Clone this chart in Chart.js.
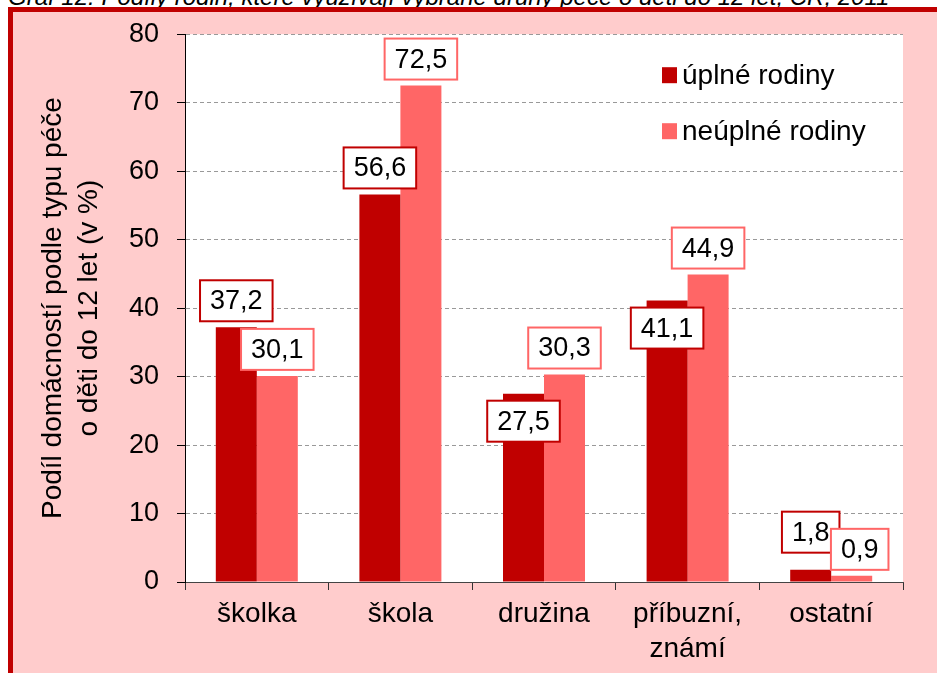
<!DOCTYPE html>
<html>
<head>
<meta charset="utf-8">
<script src="https://cdn.jsdelivr.net/npm/chart.js@4"></script>
<style>
  html, body { margin: 0; padding: 0; background: #fff; overflow: hidden; }
  #wrap { position: relative; width: 937px; height: 673px; overflow: hidden; }
  #ramec { position: absolute; left: 8px; top: 7px; right: 0; bottom: 0; background: #ffcccc;
           border-left: 5px solid #c00000; border-top: 5px solid #c00000; }
  #nadpis { position: absolute; left: 8px; top: -17px; font: italic 24px 'Liberation Sans', Arial, sans-serif;
            white-space: nowrap; color: #000; }
  #graf { position: absolute; left: 0; top: 0; }
</style>
</head>
<body>
<div id="wrap">
  <div id="nadpis">Graf 12: Podíly rodin, které využívají vybrané druhy péče o děti do 12 let, ČR, 2011</div>
  <div id="ramec"></div>
  <canvas id="graf" width="937" height="673"></canvas>
</div>
<script>
//druhy pece - osa x
var druhyPece = ['školka', 'škola', 'družina', ['příbuzní,', 'známí'], 'ostatní'];
//podily domacnosti v %
var uplneRodiny = [37.2, 56.6, 27.5, 41.1, 1.8];
var neuplneRodiny = [30.1, 72.5, 30.3, 44.9, 0.9];
//popisky osy y
var osaY = [0, 10, 20, 30, 40, 50, 60, 70, 80];

var pismo = "'Liberation Sans', Arial, sans-serif";
var tmava = '#c00000';
var svetla = '#ff6666';

//nektere popisky jsou v originale posunute rucne
var posunPopisku = {
  '0-2': { pod: true },
  '0-3': { pod: true },
  '0-4': { dy: -11 },
  '1-4': { dx: 8 }
};

Chart.defaults.font.family = pismo;
Chart.defaults.color = '#000';

//bile pozadi jen pod grafem
var bilePozadi = {
  id: 'bilePozadi',
  beforeDraw: function (chart) {
    var a = chart.chartArea;
    var ctx = chart.ctx;
    ctx.save();
    ctx.fillStyle = '#fff';
    ctx.fillRect(a.left, a.top, a.right - a.left, a.bottom - a.top);
    ctx.restore();
  }
};

//ramecky s hodnotami nad sloupci
var popisky = {
  id: 'popisky',
  afterDatasetsDraw: function (chart) {
    var ctx = chart.ctx;
    ctx.save();
    ctx.font = '27px ' + pismo;
    ctx.textAlign = 'center';
    ctx.textBaseline = 'middle';
    chart.data.datasets.forEach(function (ds, i) {
      var meta = chart.getDatasetMeta(i);
      meta.data.forEach(function (bar, j) {
        var text = ds.data[j].toFixed(1).replace('.', ',');
        var w = ctx.measureText(text).width + 20;
        var h = 41;
        var p = posunPopisku[i + '-' + j] || {};
        var x = bar.x + (p.dx || 0);
        var top = p.pod ? bar.y + 7 : bar.y - 6 - h + (p.dy || 0);
        ctx.fillStyle = '#fff';
        ctx.fillRect(x - w / 2, top, w, h);
        ctx.lineWidth = 2;
        ctx.strokeStyle = ds.backgroundColor;
        ctx.strokeRect(x - w / 2, top, w, h);
        ctx.fillStyle = '#000';
        ctx.fillText(text, x, top + h / 2 + 1);
      });
    });
    ctx.restore();
  }
};

//legenda uvnitr grafu vpravo nahore
var legenda = {
  id: 'legenda',
  afterDraw: function (chart) {
    var a = chart.chartArea;
    var ctx = chart.ctx;
    ctx.save();
    ctx.font = '28px ' + pismo;
    ctx.textBaseline = 'middle';
    ctx.textAlign = 'left';
    chart.data.datasets.forEach(function (ds, i) {
      var x = a.right - 241;
      var y = a.top + 33 + i * 56;
      ctx.fillStyle = ds.backgroundColor;
      ctx.fillRect(x, y, 15, 16);
      ctx.fillStyle = '#000';
      ctx.fillText(ds.label, x + 20, y + 9);
    });
    ctx.restore();
  }
};

var ctx = document.getElementById('graf');
var graf = new Chart(ctx, {
  type: 'bar',
  data: {
    labels: druhyPece,
    datasets: [
      {
        label: 'úplné rodiny',
        data: uplneRodiny,
        backgroundColor: tmava,
        categoryPercentage: 0.571,
        barPercentage: 1
      },
      {
        label: 'neúplné rodiny',
        data: neuplneRodiny,
        backgroundColor: svetla,
        categoryPercentage: 0.571,
        barPercentage: 1
      }
    ]
  },
  options: {
    responsive: false,
    animation: false,
    layout: { padding: { top: 30, right: 34, left: 0, bottom: 0 } },
    plugins: {
      legend: { display: false },
      tooltip: { enabled: false }
    },
    scales: {
      x: {
        afterFit: function (s) { s.height = 91; },
        grid: { drawOnChartArea: false, tickLength: 8, tickColor: '#333', offset: true },
        border: { color: '#444', width: 1 },
        ticks: { font: { size: 28, lineHeight: 1.25 }, padding: 7, maxRotation: 0, autoSkip: false }
      },
      y: {
        min: osaY[0],
        max: osaY[osaY.length - 1],
        afterFit: function (s) { s.width = 185; },
        grid: { color: '#999', tickColor: '#000', tickLength: 8, tickBorderDash: [], lineWidth: 1 },
        border: { color: '#000', width: 1, dash: [4, 3] },
        ticks: { stepSize: osaY[1] - osaY[0], font: { size: 27 }, padding: 18 },
        title: {
          display: true,
          text: ['Podíl domácností podle typu péče', 'o děti do 12 let (v %)'],
          font: { size: 28, lineHeight: 1.29 },
          padding: { top: 35, bottom: 0 }
        }
      }
    }
  },
  plugins: [bilePozadi, popisky, legenda]
});
</script>
</body>
</html>
